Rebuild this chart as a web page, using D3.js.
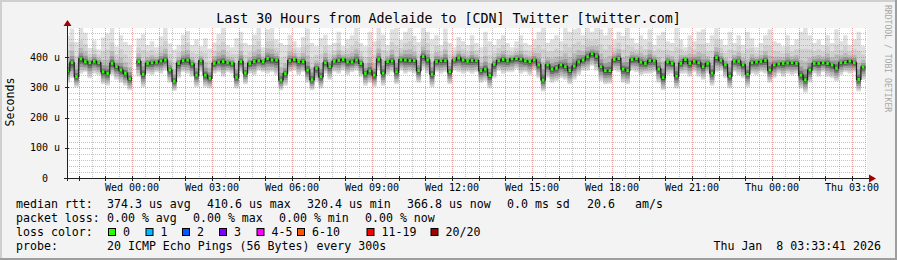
<!DOCTYPE html>
<html>
<head>
<meta charset="utf-8">
<script src="https://cdn.jsdelivr.net/npm/d3@7"></script>
<style>
  body { margin: 0; background: #f3f3f3; }
  svg { display: block; font-family: "DejaVu Sans Mono", monospace; }
  text { white-space: pre; }
</style>
</head>
<body>
<div id="chart"></div>
<script>
// ---- chart values ----
const titleText = "Last 30 Hours from Adelaide to [CDN] Twitter [twitter.com]";
const yAxisTitle = "Seconds";
const watermarkText = "RRDTOOL / TOBI OETIKER";

const graphStart = Date.UTC(2026, 0, 6, 21, 33, 41);
const graphEnd = Date.UTC(2026, 0, 8, 3, 33, 41);
const firstSample = Date.UTC(2026, 0, 6, 21, 40, 0);
const sampleStep = 600; // seconds
const yMax = 496;

const yTicks = [0, 100, 200, 300, 400];
const yTickLabels = ["0", "100 u", "200 u", "300 u", "400 u"];
const xTickLabels = ["Wed 00:00", "Wed 03:00", "Wed 06:00", "Wed 09:00", "Wed 12:00",
  "Wed 15:00", "Wed 18:00", "Wed 21:00", "Thu 00:00", "Thu 03:00"];

// median rtt in microseconds, null = no data
const median = [
  355, 381, 335, 394, 385, 381, 386, 381, 351, 346,
  379, 368, 357, 346, 328, null, 385, 343, 379, 381,
  383, 387, 390, 357, 320.4, 379, 388, 390, 377, 340,
  387, 340, 330, 379, 383, 385, 381, 379, 333, 385,
  347, 379, 385, 388, 385, 395, 390, 390, 324, 345,
  388, 392, 385, 385, 357, 325, 363, 335, 381, 368,
  386, 389, 392, 384, 384, 390, 379, 346, 354, 340,
  392, 347, 385, 387, 351, 391, 390, 388, 388, 355,
  402, 390, 343, 385, 388, 388, 351, 390, 397, 390,
  386, 389, 388, 355, 360, 339, 376, 388, 392, 387,
  394, 395, 393, 387, 385, 390, 374, 324, 374, 360,
  363, 374, 368, 355, 370, 384, 390, 401, 410.6, 403,
  368, 355, 355, 392, 395, 360, 355, 392, 395, 383,
  379, 388, 387, 360, 332, 384, 379, 337, 379, 392,
  379, 386, 381, 368, 379, 347, 398, 389, 374, 337,
  386, 386, 374, 343, 381, 384, 385, 389, 357, 374,
  377, 379, 380, 381, 379, 340, 325, 357, 379, 379,
  381, 379, 374, 363, 381, 382, 387, 381, 326, 366.8
];

// fastest ping of each round (bottom of smoke)
const smokeLo = [
  315, 330, 300, 345, 350, 330, 345, 340, 310, 305,
  340, 325, 315, 305, 290, null, 335, 300, 345, 340,
  350, 345, 355, 315, 288, 330, 350, 345, 335, 300,
  350, 300, 296, 345, 350, 335, 350, 345, 296, 350,
  310, 345, 340, 355, 350, 345, 350, 340, 290, 305,
  350, 355, 340, 350, 315, 290, 320, 296, 345, 325,
  350, 345, 355, 340, 350, 355, 335, 305, 315, 300,
  355, 305, 340, 350, 310, 355, 345, 350, 345, 315,
  360, 345, 300, 350, 345, 350, 310, 355, 350, 345,
  350, 345, 350, 315, 320, 296, 330, 355, 345, 350,
  350, 360, 345, 350, 340, 355, 330, 286, 330, 315,
  320, 330, 325, 310, 325, 340, 355, 355, 370, 355,
  320, 310, 312, 355, 350, 315, 310, 355, 350, 340,
  345, 345, 350, 315, 290, 340, 345, 296, 345, 345,
  335, 350, 335, 325, 345, 305, 350, 355, 330, 296,
  350, 340, 330, 300, 345, 340, 350, 345, 315, 330,
  345, 335, 345, 340, 345, 296, 282, 315, 345, 335,
  350, 335, 330, 320, 340, 350, 345, 350, 286, 325
];

// slowest ping of each round (top of smoke)
const smokeHi = [
  470, 494, 450, 496, 480, 430, 455, 425, 465, 478,
  496, 435, 472, 450, 440, null, 462, 475, 440, 452,
  432, 468, 496, 445, 425, 440, 474, 486, 440, 458,
  436, 462, 428, 448, 476, 496, 440, 432, 462, 484,
  446, 440, 474, 496, 432, 492, 496, 458, 446, 440,
  474, 452, 432, 466, 494, 446, 436, 462, 474, 440,
  446, 484, 436, 458, 472, 496, 446, 436, 484, 452,
  496, 474, 440, 492, 496, 456, 484, 496, 470, 450,
  496, 484, 458, 472, 440, 494, 446, 432, 466, 452,
  440, 472, 446, 432, 484, 452, 440, 458, 472, 446,
  432, 452, 472, 446, 440, 458, 484, 496, 446, 458,
  472, 452, 496, 484, 492, 496, 472, 496, 484, 496,
  492, 472, 496, 458, 484, 470, 496, 462, 446, 472,
  458, 492, 440, 472, 484, 452, 446, 496, 458, 432,
  472, 452, 484, 492, 446, 472, 496, 458, 440, 484,
  446, 472, 440, 484, 462, 432, 446, 472, 492, 452,
  446, 436, 472, 440, 458, 484, 496, 472, 446, 458,
  440, 472, 446, 492, 452, 472, 440, 458, 484, 436
];

const rttLegend = ["median rtt:", "374.3 us avg", "410.6 us max", "320.4 us min",
  "366.8 us now", "0.0 ms sd", "20.6", "am/s"];
const lossLegend = ["packet loss:", "0.00 % avg", "0.00 % max", "0.00 % min", "0.00 % now"];
const lossTitle = "loss color:";
const lossBuckets = ["0", "1", "2", "3", "4-5", "6-10", "11-19", "20/20"];
const lossColors = ["#26ff00", "#00b8ff", "#0059ff", "#7e00ff", "#ff00ff", "#ff5500", "#ff0000", "#a10000"];
const probeLegend = ["probe:", "20 ICMP Echo Pings (56 Bytes) every 300s"];
const stampText = "Thu Jan  8 03:33:41 2026";

// ---- layout ----
const rttCols = [16, 107, 207, 307, 407, 507, 587, 635];
const lossCols = [16, 107, 193, 279, 365];
const swatchCols = [108, 145.5, 182, 219, 256.5, 297, 366.5, 430.5];
const legendRows = [208, 222, 236, 250];
// grey levels of the smoke, from the outer pings in to the median
const smokeBands = [
  { down: 1.0, up: 1.0, fill: "#e0e0e0" },
  { down: 0.9, up: 0.6, fill: "#d0d0d0" },
  { down: 0.75, up: 0.35, fill: "#b9b9b9" },
  { down: 0.55, up: 0.2, fill: "#9a9a9a" },
  { down: 0.35, up: 0.1, fill: "#727272" },
  { down: 0.18, up: 0.045, fill: "#4a4a4a" }
];

class SmokeVis {
  constructor(_parentElement) {
    this.parentElement = _parentElement;
    this.initVis();
  }

  initVis() {
    let vis = this;

    vis.width = 897;
    vis.height = 260;
    vis.plot = { left: 67, right: 867, top: 28, bottom: 178 };

    vis.svg = d3
      .select("#" + vis.parentElement)
      .append("svg")
      .attr("width", vis.width)
      .attr("height", vis.height);

    // background + rrdtool shade frame
    vis.svg.append("rect").attr("width", vis.width).attr("height", vis.height).attr("fill", "#f3f3f3");
    vis.svg.append("rect").attr("x", 0).attr("y", 0).attr("width", vis.width).attr("height", 2).attr("fill", "#cfcfcf");
    vis.svg.append("rect").attr("x", 0).attr("y", 0).attr("width", 2).attr("height", vis.height).attr("fill", "#cfcfcf");
    vis.svg.append("rect").attr("x", vis.width - 2).attr("y", 0).attr("width", 2).attr("height", vis.height).attr("fill", "#9e9e9e");
    vis.svg.append("rect").attr("x", 0).attr("y", vis.height - 2).attr("width", vis.width).attr("height", 2).attr("fill", "#9e9e9e");

    vis.svg
      .append("rect")
      .attr("x", vis.plot.left)
      .attr("y", vis.plot.top)
      .attr("width", vis.plot.right - vis.plot.left)
      .attr("height", vis.plot.bottom - vis.plot.top)
      .attr("fill", "#ffffff");

    vis.svg
      .append("clipPath")
      .attr("id", "plot-clip")
      .append("rect")
      .attr("x", vis.plot.left)
      .attr("y", vis.plot.top)
      .attr("width", vis.plot.right - vis.plot.left)
      .attr("height", vis.plot.bottom - vis.plot.top);

    vis.x = d3.scaleUtc().domain([graphStart, graphEnd]).range([vis.plot.left, vis.plot.right]);
    vis.y = d3.scaleLinear().domain([0, yMax]).range([vis.plot.bottom, vis.plot.top]);

    vis.wrangleData();
  }

  wrangleData() {
    let vis = this;

    // every sample covers the step before its timestamp; expand to two corners
    vis.displayData = [];
    median.forEach((m, i) => {
      const t1 = firstSample + i * sampleStep * 1000;
      const t0 = t1 - sampleStep * 1000;
      const d = { med: m, lo: smokeLo[i], hi: smokeHi[i], t0: t0, t1: t1 };
      vis.displayData.push({ ...d, t: t0 }, { ...d, t: t1 });
    });
    vis.samples = median.map((m, i) => ({
      med: m,
      t1: firstSample + i * sampleStep * 1000,
      t0: firstSample + (i - 1) * sampleStep * 1000
    }));

    vis.updateVis();
  }

  updateVis() {
    let vis = this;
    const px = (v) => Math.round(v) + 0.5;

    const g = vis.svg.append("g").attr("clip-path", "url(#plot-clip)");

    // smoke
    smokeBands.forEach((band) => {
      const area = d3
        .area()
        .defined((d) => d.med != null)
        .x((d) => vis.x(d.t))
        .y0((d) => vis.y(d.med - (d.med - d.lo) * band.down))
        .y1((d) => vis.y(d.med + (d.hi - d.med) * band.up));
      g.append("path").attr("d", area(vis.displayData)).attr("fill", band.fill);
    });

    // grid
    const grid = vis.svg.append("g").attr("class", "grid").attr("fill", "none").attr("stroke-dasharray", "1,1");
    const minorX = d3.utcMinute.every(30).range(graphStart, graphEnd).filter((t) => t.getUTCMinutes() === 30);
    const majorX = d3.utcHour.range(graphStart, graphEnd);
    const minorY = d3.range(20, yMax, 20).filter((v) => v % 100 !== 0);
    const majorY = yTicks.filter((v) => v > 0);

    grid.selectAll(".minor-x").data(minorX).join("line")
      .attr("x1", (d) => px(vis.x(d))).attr("x2", (d) => px(vis.x(d)))
      .attr("y1", vis.plot.top).attr("y2", vis.plot.bottom)
      .attr("stroke", "rgba(140,140,140,0.5)");
    grid.selectAll(".minor-y").data(minorY).join("line")
      .attr("x1", vis.plot.left).attr("x2", vis.plot.right)
      .attr("y1", (d) => px(vis.y(d))).attr("y2", (d) => px(vis.y(d)))
      .attr("stroke", "rgba(140,140,140,0.5)");
    grid.selectAll(".major-x").data(majorX).join("line")
      .attr("x1", (d) => px(vis.x(d))).attr("x2", (d) => px(vis.x(d)))
      .attr("y1", vis.plot.top).attr("y2", vis.plot.bottom)
      .attr("stroke", "rgba(222,80,80,0.55)");
    grid.selectAll(".major-y").data(majorY).join("line")
      .attr("x1", vis.plot.left).attr("x2", vis.plot.right)
      .attr("y1", (d) => px(vis.y(d))).attr("y2", (d) => px(vis.y(d)))
      .attr("stroke", "rgba(222,80,80,0.55)");

    // median line and loss colour marks
    const line = d3
      .line()
      .defined((d) => d.med != null)
      .x((d) => vis.x(d.t))
      .y((d) => vis.y(d.med));
    const g2 = vis.svg.append("g").attr("clip-path", "url(#plot-clip)");
    g2.append("path")
      .attr("d", line(vis.displayData))
      .attr("fill", "none")
      .attr("stroke", "#202020")
      .attr("stroke-width", 1.2);

    g2.selectAll(".loss").data(vis.samples.filter((d) => d.med != null)).join("rect")
      .attr("x", (d) => (vis.x(d.t0) + vis.x(d.t1)) / 2 - 1.25)
      .attr("y", (d) => vis.y(d.med) - 1.5)
      .attr("width", 2.5)
      .attr("height", 3)
      .attr("fill", lossColors[0]);

    // axes
    const axis = vis.svg.append("g").attr("stroke", "#202020").attr("fill", "none");
    axis.append("line").attr("x1", vis.plot.left - 3).attr("x2", vis.plot.right + 3)
      .attr("y1", vis.plot.bottom + 0.5).attr("y2", vis.plot.bottom + 0.5);
    axis.append("line").attr("x1", vis.plot.left + 0.5).attr("x2", vis.plot.left + 0.5)
      .attr("y1", vis.plot.bottom + 3).attr("y2", vis.plot.top - 2);
    axis.selectAll(".ytick").data(majorY).join("line")
      .attr("x1", vis.plot.left - 2).attr("x2", vis.plot.left + 2)
      .attr("y1", (d) => px(vis.y(d))).attr("y2", (d) => px(vis.y(d)));
    axis.selectAll(".xtick").data(majorX).join("line")
      .attr("x1", (d) => px(vis.x(d))).attr("x2", (d) => px(vis.x(d)))
      .attr("y1", vis.plot.bottom - 2).attr("y2", vis.plot.bottom + 3);

    vis.svg.append("path")
      .attr("d", `M${vis.plot.right + 2},${vis.plot.bottom - 3.5}L${vis.plot.right + 9},${vis.plot.bottom + 0.5}L${vis.plot.right + 2},${vis.plot.bottom + 4.5}Z`)
      .attr("fill", "#a00000");
    vis.svg.append("path")
      .attr("d", `M${vis.plot.left - 3.5},${vis.plot.top - 2}L${vis.plot.left + 0.5},${vis.plot.top - 8}L${vis.plot.left + 4.5},${vis.plot.top - 2}Z`)
      .attr("fill", "#a00000");

    // tick labels
    const labelTimes = d3.utcHour.every(3).range(graphStart, graphEnd);
    vis.svg.selectAll(".xlabel").data(xTickLabels).join("text")
      .attr("x", (d, i) => vis.x(labelTimes[i]))
      .attr("y", 191)
      .attr("text-anchor", "middle")
      .attr("font-size", 10)
      .text((d) => d);
    vis.svg.selectAll(".ylabel").data(yTicks).join("text")
      .attr("x", (d) => (d === 0 ? 48 : 60))
      .attr("y", (d) => vis.y(d) + 3.5)
      .attr("text-anchor", "end")
      .attr("font-size", 10)
      .text((d, i) => yTickLabels[i]);

    // titles
    vis.svg.append("text").attr("x", vis.width / 2).attr("y", 23)
      .attr("text-anchor", "middle").attr("font-size", 13.3).text(titleText);
    vis.svg.append("text").attr("transform", "translate(14,102) rotate(-90)")
      .attr("text-anchor", "middle").attr("font-size", 11.6).text(yAxisTitle);
    vis.svg.append("text").attr("transform", "translate(885,5) rotate(90)")
      .attr("font-size", 8.1).attr("fill", "#a8a8a8").text(watermarkText);

    vis.drawLegend();
  }

  drawLegend() {
    let vis = this;
    const legend = vis.svg.append("g").attr("font-size", 11.6).attr("fill", "#000");

    legend.selectAll(".rtt").data(rttLegend).join("text")
      .attr("x", (d, i) => rttCols[i]).attr("y", legendRows[0]).text((d) => d);
    legend.selectAll(".loss").data(lossLegend).join("text")
      .attr("x", (d, i) => lossCols[i]).attr("y", legendRows[1]).text((d) => d);

    legend.append("text").attr("x", rttCols[0]).attr("y", legendRows[2]).text(lossTitle);
    legend.selectAll(".swatch").data(lossBuckets).join("rect")
      .attr("x", (d, i) => swatchCols[i] + 0.5)
      .attr("y", legendRows[2] - 7.5)
      .attr("width", 7)
      .attr("height", 7)
      .attr("fill", (d, i) => lossColors[i])
      .attr("stroke", "#000");
    legend.selectAll(".bucket").data(lossBuckets).join("text")
      .attr("x", (d, i) => swatchCols[i] + 15)
      .attr("y", legendRows[2])
      .text((d) => d);

    legend.selectAll(".probe").data(probeLegend).join("text")
      .attr("x", (d, i) => rttCols[i]).attr("y", legendRows[3]).text((d) => d);
    legend.append("text").attr("x", 881).attr("y", legendRows[3])
      .attr("text-anchor", "end").text(stampText);
  }
}

new SmokeVis("chart");
</script>
</body>
</html>
